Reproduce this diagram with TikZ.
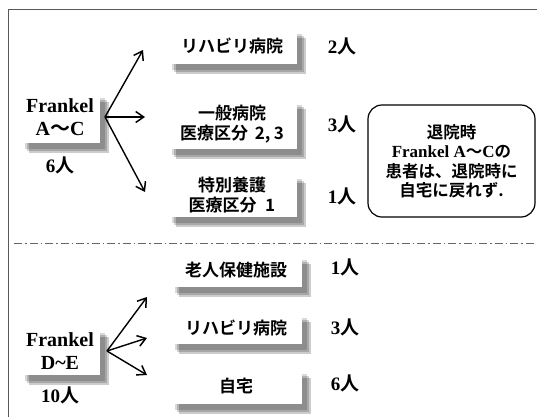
\documentclass[tikz,border=0pt]{standalone}
\usepackage{fontspec}
\setmainfont{Liberation Serif}
\newfontfamily\jp{Noto Sans CJK JP}[BoldFont={Noto Sans CJK JP Bold}]
\usetikzlibrary{arrows.meta,shadows}
\newcommand{\ninjp}{{\jp\bfseries 人}}
\newcommand{\wavejp}{{\jp\bfseries ～}}
\tikzset{
  jpt/.style={font=\jp\bfseries\fontsize{17}{20.5}\selectfont},
  wbox/.style={fill=white, inner sep=0pt, align=center, jpt,
    general shadow={fill=black, opacity=0.15, shadow xshift=5pt, shadow yshift=-6pt},
    general shadow={fill=black, opacity=0.18, shadow xshift=7pt, shadow yshift=-8pt},
    general shadow={fill=black, opacity=0.20, shadow xshift=9pt, shadow yshift=-10pt}},
  fbox/.style={wbox, font=\bfseries\fontsize{20}{23}\selectfont},
  cnt/.style={inner sep=0pt, font=\bfseries\fontsize{19}{22}\selectfont},
  arr/.style={-{Straight Barb[length=8pt,width=11pt,line width=1.5pt]}, line width=1.4pt},
  frame/.style={draw=black!65, line width=0.9pt},
  sep/.style={draw=black!60, line width=1pt, dash pattern=on 8pt off 3pt on 1.5pt off 3pt},
}
\begin{document}
\begin{tikzpicture}[x=1pt,y=-1pt]
\useasboundingbox (0,0) rectangle (537,416);
\fill[white] (0,0) rectangle (537,416);
\draw[frame] (8,417) -- (8,9) -- (538,9);
\draw[sep] (14,243) -- (537,243);

% upper group
\node[fbox, minimum width=80pt, minimum height=51pt] (fa) at (60,117.5) {Frankel\\A\wavejp C};
\node[cnt] (fan) at (60,165) {6\ninjp};

\node[wbox, minimum width=130pt, minimum height=36pt] (a1) at (232,46) {リハビリ病院};
\node[wbox, minimum width=130pt, minimum height=50pt] (a2) at (232,124) {一般病院\\医療区分\hspace{0.4em}2,\hspace{0.2em}3};
\node[wbox, minimum width=130pt, minimum height=44pt] (a3) at (232,195) {特別養護\\医療区分\hspace{0.5em}1};

\node[cnt] (ca1) at (342,46) {2\ninjp};
\node[cnt] (ca2) at (342,124) {3\ninjp};
\node[cnt] (ca3) at (342,196) {1\ninjp};

\coordinate (oa) at (105,117);
\coordinate (ta1) at (143,50);
\coordinate (ta2) at (145,117);
\coordinate (ta3) at (145,192);
\draw[arr] (oa) -- (ta1);
\draw[arr] (oa) -- (ta2);
\draw[arr] (oa) -- (ta3);

\node[draw, line width=1.2pt, rounded corners=14pt, minimum width=167pt, minimum height=112pt, align=center, inner sep=0pt] (note) at (451.5,161) {};
\node[align=center, inner sep=0pt, font=\jp\bfseries\fontsize{16.5}{19.5}\selectfont] (notetext) at (note.center) {退院時\\{\rmfamily\bfseries\fontsize{17}{19.5}\selectfont Frankel A}\wavejp{\rmfamily\bfseries\fontsize{17}{19.5}\selectfont C}の\\患者は、退院時に\\自宅に戻れず.};

% lower group
\node[fbox, minimum width=80pt, minimum height=48pt] (fd) at (60,351) {Frankel\\D\textasciitilde E};
\node[cnt] (fdn) at (60,395) {10\ninjp};

\node[wbox, minimum width=132pt, minimum height=33pt] (d1) at (236,270) {老人保健施設};
\node[wbox, minimum width=132pt, minimum height=32pt] (d2) at (236,328) {リハビリ病院};
\node[wbox, minimum width=132pt, minimum height=36pt] (d3) at (236,386) {自宅};

\node[cnt] (cd1) at (345,267) {1\ninjp};
\node[cnt] (cd2) at (345,327) {3\ninjp};
\node[cnt] (cd3) at (345,383) {6\ninjp};

\coordinate (od) at (107,351);
\coordinate (td1) at (147,297);
\coordinate (td2) at (147,338);
\coordinate (td3) at (147,375);
\draw[arr] (od) -- (td1);
\draw[arr] (od) -- (td2);
\draw[arr] (od) -- (td3);
\end{tikzpicture}
\end{document}
